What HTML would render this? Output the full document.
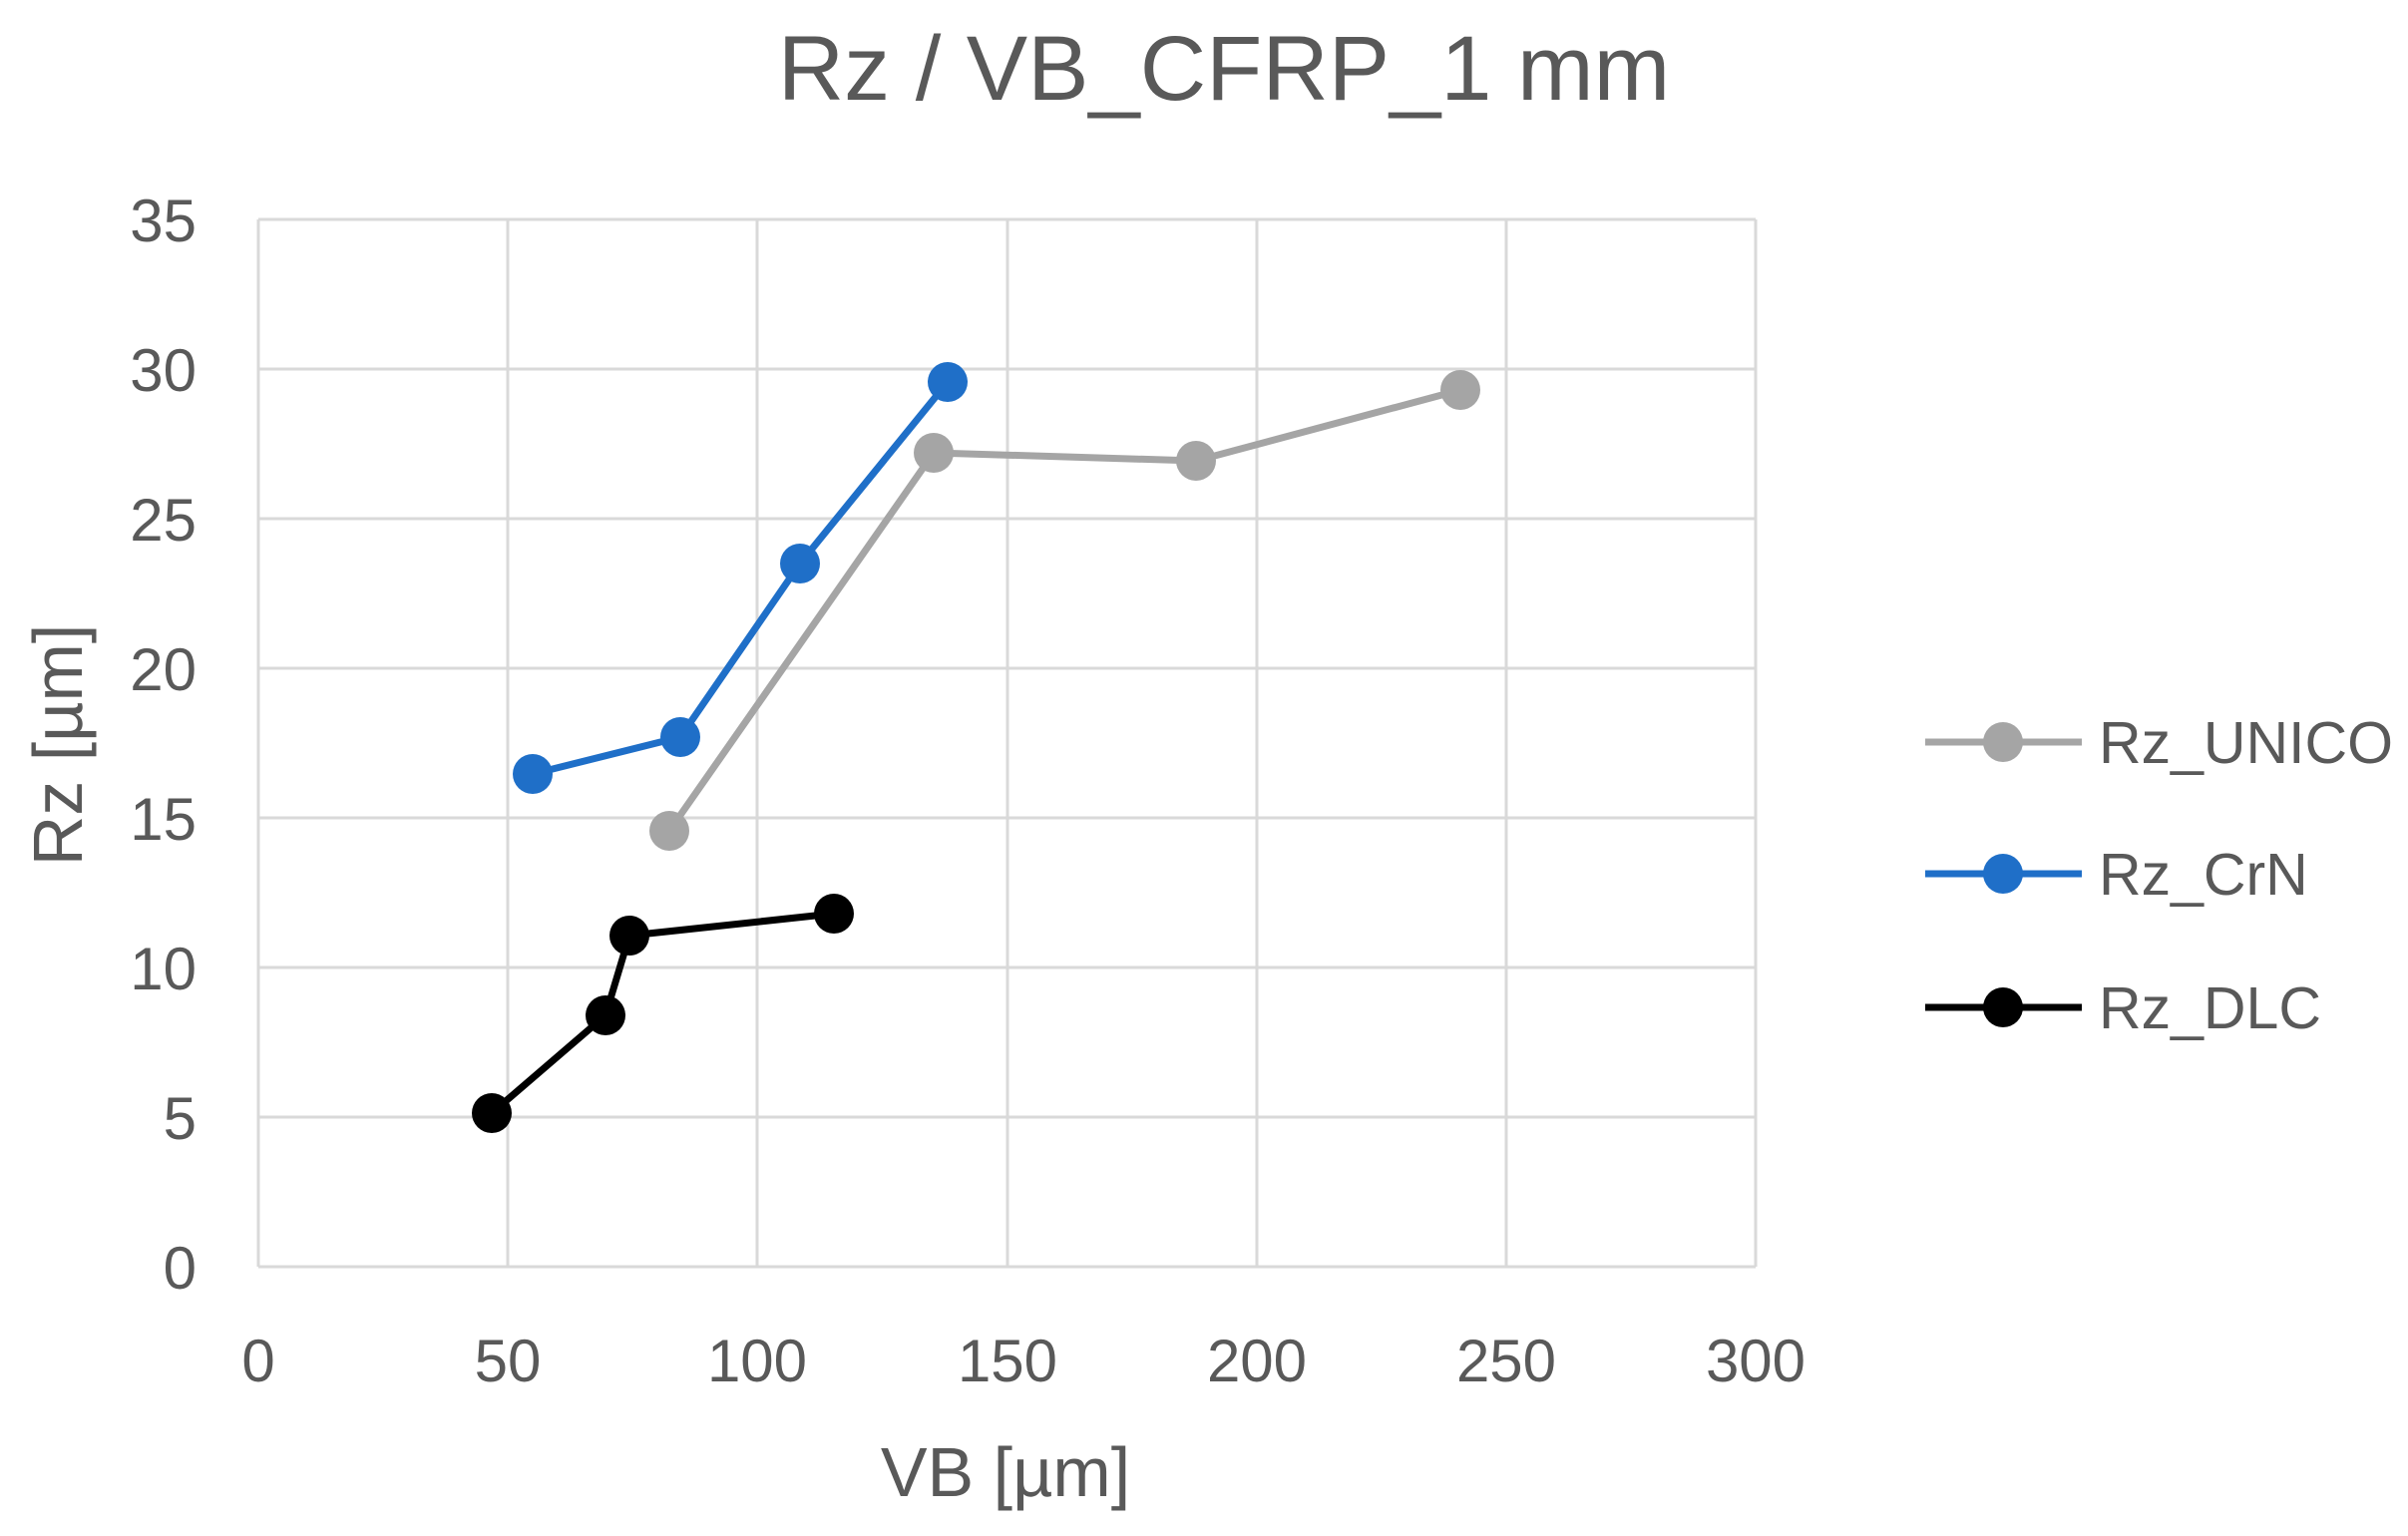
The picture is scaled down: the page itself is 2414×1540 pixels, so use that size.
<!DOCTYPE html>
<html><head><meta charset="utf-8"><style>body{margin:0;background:#fff}svg{display:block}</style></head><body>
<svg width="2414" height="1540" xmlns="http://www.w3.org/2000/svg" font-family="Liberation Sans, sans-serif" fill="#595959">
<rect width="2414" height="1540" fill="#fff"/>
<text x="1227" y="100" font-size="92" text-anchor="middle">Rz / VB_CFRP_1 mm</text>
<g stroke="#d9d9d9" stroke-width="3">
<line x1="259" y1="220" x2="1760" y2="220"/><line x1="259" y1="370" x2="1760" y2="370"/><line x1="259" y1="520" x2="1760" y2="520"/><line x1="259" y1="670" x2="1760" y2="670"/><line x1="259" y1="820" x2="1760" y2="820"/><line x1="259" y1="970" x2="1760" y2="970"/><line x1="259" y1="1120" x2="1760" y2="1120"/><line x1="259" y1="1270" x2="1760" y2="1270"/>
<line x1="259" y1="220" x2="259" y2="1270"/><line x1="509" y1="220" x2="509" y2="1270"/><line x1="759" y1="220" x2="759" y2="1270"/><line x1="1010" y1="220" x2="1010" y2="1270"/><line x1="1260" y1="220" x2="1260" y2="1270"/><line x1="1510" y1="220" x2="1510" y2="1270"/><line x1="1760" y1="220" x2="1760" y2="1270"/>
</g>
<g font-size="60" text-anchor="end">
<text x="197" y="242">35</text><text x="197" y="392">30</text><text x="197" y="542">25</text><text x="197" y="692">20</text><text x="197" y="842">15</text><text x="197" y="992">10</text><text x="197" y="1142">5</text><text x="197" y="1292">0</text>
</g>
<g font-size="60" text-anchor="middle">
<text x="259" y="1385">0</text><text x="509" y="1385">50</text><text x="759" y="1385">100</text><text x="1010" y="1385">150</text><text x="1260" y="1385">200</text><text x="1510" y="1385">250</text><text x="1760" y="1385">300</text>
<text x="1008" y="1500" font-size="70">VB [µm]</text>
<text transform="translate(82,747) rotate(-90)" font-size="70">Rz [µm]</text>
</g>
<g fill="none" stroke-width="7" stroke-linejoin="round">
<polyline stroke="#a5a5a5" points="671,833 936,454 1199,462 1464,391"/>
<polyline stroke="#1f6fc8" points="534,776 682,739 802,565 950,383"/>
<polyline stroke="#000" points="493,1116 607,1018 631,938 836,916"/>
</g>
<g fill="#a5a5a5"><circle cx="671" cy="833" r="20"/><circle cx="936" cy="454" r="20"/><circle cx="1199" cy="462" r="20"/><circle cx="1464" cy="391" r="20"/></g>
<g fill="#1f6fc8"><circle cx="534" cy="776" r="20"/><circle cx="682" cy="739" r="20"/><circle cx="802" cy="565" r="20"/><circle cx="950" cy="383" r="20"/></g>
<g fill="#000"><circle cx="493" cy="1116" r="20"/><circle cx="607" cy="1018" r="20"/><circle cx="631" cy="938" r="20"/><circle cx="836" cy="916" r="20"/></g>
<g stroke-width="7">
<line x1="1930" y1="744" x2="2087" y2="744" stroke="#a5a5a5"/><circle cx="2008" cy="744" r="20" fill="#a5a5a5" stroke="none"/>
<line x1="1930" y1="876" x2="2087" y2="876" stroke="#1f6fc8"/><circle cx="2008" cy="876" r="20" fill="#1f6fc8" stroke="none"/>
<line x1="1930" y1="1010" x2="2087" y2="1010" stroke="#000"/><circle cx="2008" cy="1010" r="20" fill="#000" stroke="none"/>
</g>
<g font-size="59">
<text x="2104" y="765">Rz_UNICO</text><text x="2104" y="897">Rz_CrN</text><text x="2104" y="1031">Rz_DLC</text>
</g>
</svg>
</body></html>
